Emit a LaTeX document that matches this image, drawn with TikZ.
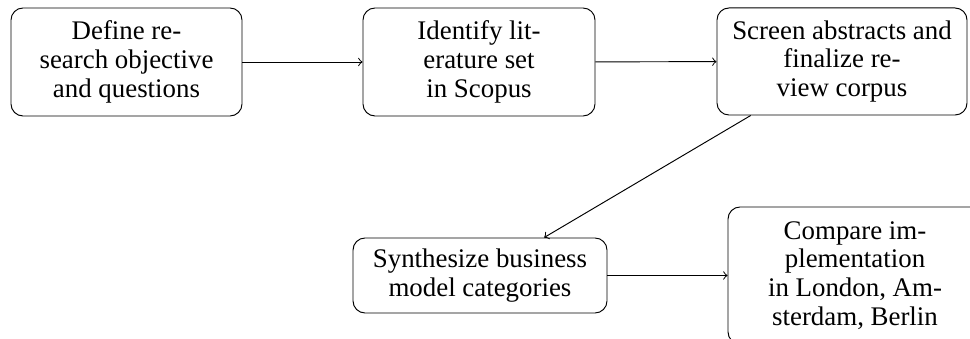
\documentclass[tikz,border=0pt]{standalone}
\usepackage{fontspec}
\setmainfont{Liberation Serif}
\begin{document}
\begin{tikzpicture}[x=0.41667pt, y=-0.41667pt,
  box/.style={draw, rounded corners=5pt, align=center, inner sep=0pt, line width=0.4pt, font=\fontsize{11.2}{12}\selectfont},
  conn/.style={->, line width=0.4pt}]
\useasboundingbox (0,0) rectangle (970,339);
\node[box, minimum width=96.25pt, minimum height=45pt] (n1) at (126.5,62) {Define re-\\search objective\\and questions};
\node[box, minimum width=96.67pt, minimum height=45pt] (n2) at (479,62) {Identify lit-\\erature set\\in Scopus};
\node[box, minimum width=104.17pt, minimum height=44.6pt] (n3) at (842,61.5) {Screen abstracts and\\finalize re-\\view corpus};
\node[box, minimum width=105.83pt, minimum height=31.25pt] (n4) at (480,275.5) {Synthesize business\\model categories};
\node[box, minimum width=105.83pt, minimum height=57.08pt] (n5) at (855,275.5) {Compare im-\\plementation\\in London, Am-\\sterdam, Berlin};
\draw[conn] (n1) -- (n2);
\draw[conn] (n2) -- (n3);
\draw[conn] (n3) -- (n4);
\draw[conn] (n4) -- (n5);
\end{tikzpicture}
\end{document}
